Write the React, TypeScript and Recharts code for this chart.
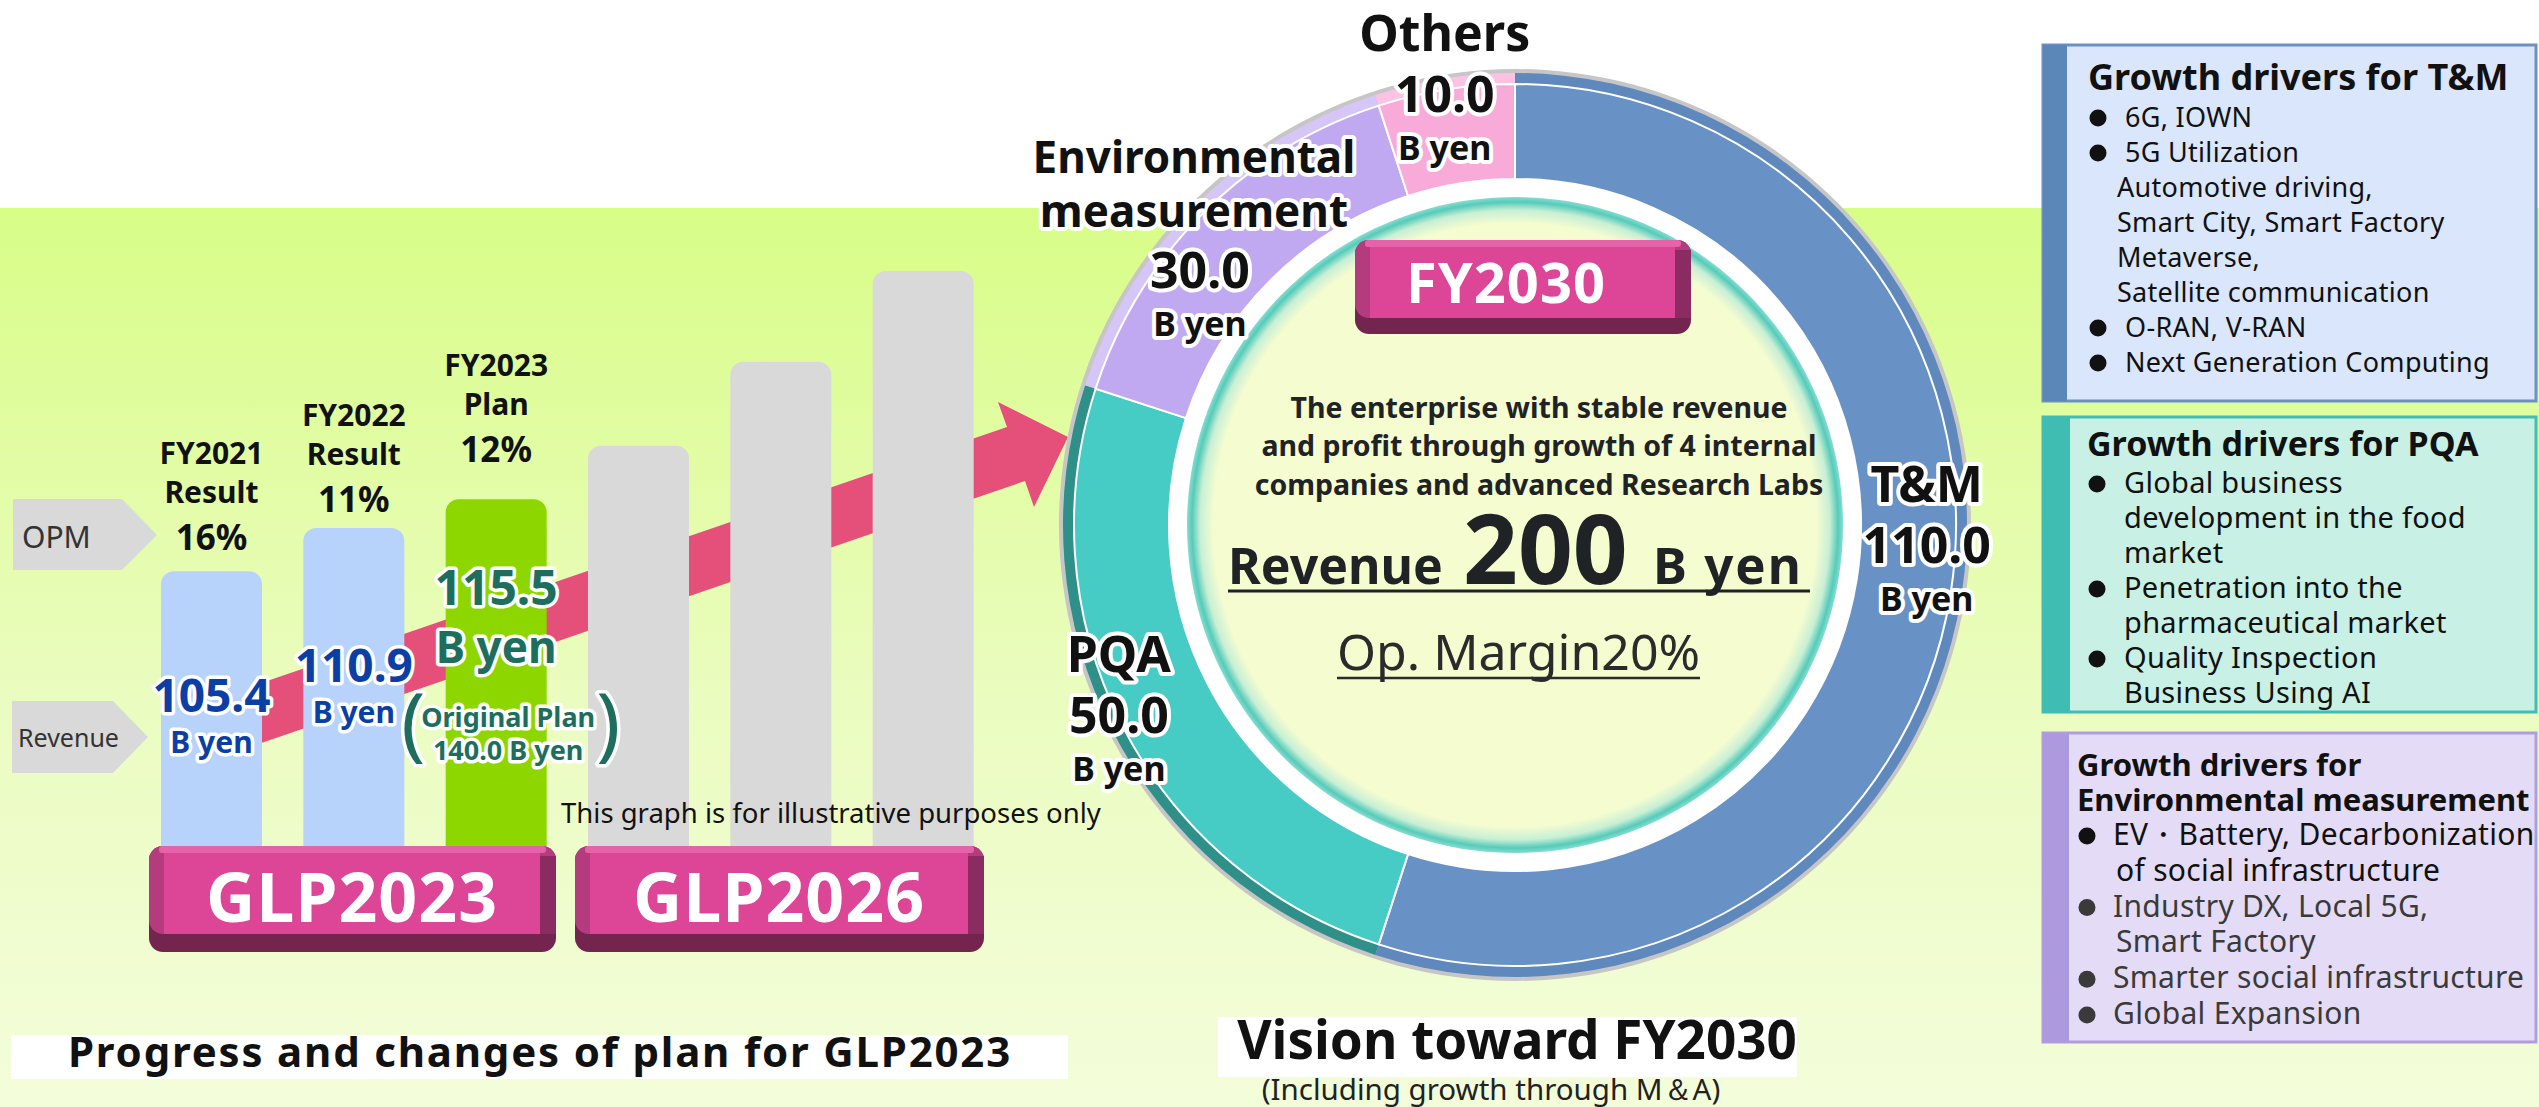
import { BarChart, Bar, XAxis, YAxis, Cell, LabelList, PieChart, Pie } from 'recharts';

const FONT = "'Noto Sans', 'Open Sans', sans-serif";

// GLP2023 / GLP2026 columns (heights are illustrative only, tallest column = 100)
const barKey = ['c1', 'c2', 'c3', 'c4', 'c5', 'c6'];
const barLevel = [47.8, 55.3, 60.3, 69.6, 84.2, 100];
const barColor = ['#b7d2fb', '#b7d2fb', '#8ed600', '#d9d9d9', '#d9d9d9', '#d9d9d9'];
const barPeriod = ['FY2021', 'FY2022', 'FY2023'];
const barStatus = ['Result', 'Result', 'Plan'];
const barOpm = ['16%', '11%', '12%'];
const barRevenue = [105.4, 110.9, 115.5];
const planOriginal = 140.0;
const planNames = ['GLP2023', 'GLP2026'];

// FY2030 revenue split, B yen
const segmentName = ['T&M', 'PQA', 'Environmental measurement', 'Others'];
const segmentRevenue = [110.0, 50.0, 30.0, 10.0];
const segmentColor = ['#6892c5', '#47cbc5', '#c1a9f2', '#f8abd8'];
const segmentRim = ['#5f89bd', '#2f8f89', '#d6c6f8', '#fbc2e3'];
const revenueTarget = 200;
const marginTarget = '20%';

// growth driver boxes: [text, starts with a bullet]
const tmDrivers: [string, boolean][] = [
  ['6G, IOWN', true],
  ['5G Utilization', true],
  ['Automotive driving,', false],
  ['Smart City, Smart Factory', false],
  ['Metaverse,', false],
  ['Satellite communication', false],
  ['O-RAN, V-RAN', true],
  ['Next Generation Computing', true],
];
const pqaDrivers: [string, boolean][] = [
  ['Global business', true],
  ['development in the food', false],
  ['market', false],
  ['Penetration into the', true],
  ['pharmaceutical market', false],
  ['Quality Inspection', true],
  ['Business Using AI', false],
];
const envDrivers: [string, boolean][] = [
  ['EV・Battery, Decarbonization', true],
  ['of social infrastructure', false],
  ['Industry DX, Local 5G,', true],
  ['Smart Factory', false],
  ['Smarter social infrastructure', true],
  ['Global Expansion', true],
];

const barData = barKey.map((key, i) => ({ key, level: barLevel[i] }));
const pieData = segmentName.map((name, i) => ({ name, value: segmentRevenue[i] }));

const outline = { stroke: '#fff', strokeWidth: 7, strokeLinejoin: 'round' as const, paintOrder: 'stroke' };

const barBox = (props: any) => {
  const vb = props.viewBox ?? {};
  const x = Number(props.x ?? vb.x);
  const y = Number(props.y ?? vb.y);
  const w = Number(props.width ?? vb.width);
  return { cx: x + w / 2, top: y };
};

const headerLift = [2, -3, 18];

function BarHeader(props: any) {
  const i = props.index;
  if (i == null || i > 2) return null;
  const { cx, top } = barBox(props);
  const t = top - headerLift[i];
  return (
    <g fontFamily={FONT} fontWeight={700} fill="#111" textAnchor="middle">
      <text x={cx} y={t - 105} fontSize={30}>{barPeriod[i]}</text>
      <text x={cx} y={t - 66} fontSize={30}>{barStatus[i]}</text>
      <text x={cx} y={t - 19} fontSize={35}>{barOpm[i]}</text>
    </g>
  );
}

const valueDrop = [141, 154, 106];

function BarValue(props: any) {
  const i = props.index;
  if (i == null || i > 2) return null;
  const { cx, top } = barBox(props);
  const isPlan = i === 2;
  const color = isPlan ? '#1e6e5e' : '#0b3fa6';
  const yv = top + valueDrop[i];
  return (
    <g fontFamily={FONT} fontWeight={700} fill={color} textAnchor="middle" style={outline}>
      <text x={cx} y={yv} fontSize={isPlan ? 48 : 46}>{barRevenue[i].toFixed(1)}</text>
      <text x={cx} y={yv + (isPlan ? 58 : 41)} fontSize={isPlan ? 44 : 30}>B yen</text>
      {isPlan && (
        <>
          <text x={cx + 12} y={top + 228} fontSize={27}>Original Plan</text>
          <text x={cx + 12} y={top + 261} fontSize={27}>{planOriginal.toFixed(1)} B yen</text>
          <text x={cx - 83} y={top + 252} fontSize={80} fontWeight={400}>(</text>
          <text x={cx + 112} y={top + 252} fontSize={80} fontWeight={400}>)</text>
        </>
      )}
    </g>
  );
}

const labelNudge = [[-13, -29], [-13, 13], [-11, 67], [-3, 12]];

function SegmentLabel(props: any) {
  const { cx, cy, midAngle, index } = props;
  const rad = (-midAngle * Math.PI) / 180;
  const [dx, dy] = labelNudge[index];
  const x = cx + 430 * Math.cos(rad) + dx;
  const y = cy + 430 * Math.sin(rad) + dy;
  const lines = segmentName[index].split(' ');
  const multi = lines.length > 1;
  return (
    <g fontFamily={FONT} fontWeight={700} fill="#111" textAnchor="middle" style={{ ...outline, strokeWidth: 8 }}>
      {lines.map((t, k) => (
        <text key={t} x={multi ? x - 6 : x} y={y - 61 - (lines.length - 1 - k) * 54} fontSize={multi ? 44 : 50}>
          {t}
        </text>
      ))}
      <text x={x} y={y} fontSize={50}>{segmentRevenue[index].toFixed(1)}</text>
      <text x={x} y={y + 48} fontSize={34}>B yen</text>
    </g>
  );
}

function BevelBox({ x, y, w, h, label, tx, baseline, size }: any) {
  const bottom = Math.round(h * 0.17);
  return (
    <g>
      <rect x={x} y={y} width={w} height={h} rx={14} fill="#74254f" />
      <rect x={x} y={y} width={w} height={h - bottom} rx={14} fill="#b43c7e" />
      <rect x={x + w - 16} y={y + 10} width={16} height={h - bottom - 10} fill="#8a2b61" />
      <rect x={x + 15} y={y + 7} width={w - 31} height={h - bottom - 7} fill="#dd4596" />
      <rect x={x + 10} y={y} width={w - 20} height={7} rx={3} fill="#e463a9" />
      <text x={tx} y={baseline} fontSize={size} fontWeight={700} fill="#fff" textAnchor="middle" fontFamily={FONT} letterSpacing={1}>
        {label}
      </text>
    </g>
  );
}

function DriverPanel({ y, h, fill, edge, stripe, stripeW, title, titleX, titleBase, titleSize, lines, size, bulletX, textX, contX, first, step, mutedFrom }: any) {
  const x = 2043;
  const w = 493;
  return (
    <g fontFamily={FONT}>
      <rect x={x} y={y} width={w} height={h} fill={fill} stroke={edge} strokeWidth={3} />
      <rect x={x} y={y} width={stripeW} height={h} fill={stripe} />
      {title.map((t: string, k: number) => (
        <text key={t} x={titleX} y={titleBase + k * 35} fontSize={titleSize} fontWeight={700} fill="#111">{t}</text>
      ))}
      {lines.map(([t, bullet]: [string, boolean], k: number) => {
        const by = first + k * step;
        const color = mutedFrom != null && k >= mutedFrom ? '#3a3a3a' : '#111';
        return (
          <g key={t}>
            {bullet && <circle cx={bulletX} cy={by - 9} r={8.5} fill={color} />}
            <text x={bullet ? textX : contX} y={by} fontSize={size} fill={color} letterSpacing={0.3}>{t}</text>
          </g>
        );
      })}
    </g>
  );
}

export default function App() {
  return (
    <div style={{ position: 'relative', width: 2539, height: 1107, overflow: 'hidden', background: '#fff' }}>
      <style>{'body{margin:0}'}</style>

      {/* backdrop, arrow */}
      <svg width={2539} height={1107} style={{ position: 'absolute', left: 0, top: 0 }}>
        <defs>
          <linearGradient id="band" x1="0" y1="0" x2="0" y2="1">
            <stop offset="0" stopColor="#d8fd87" />
            <stop offset="0.55" stopColor="#ebfcc0" />
            <stop offset="1" stopColor="#f3fdda" />
          </linearGradient>
          <radialGradient id="discFill" cx="50%" cy="50%" r="50%">
            <stop offset="0" stopColor="#f5fcd0" />
            <stop offset="0.92" stopColor="#f5fcd0" />
            <stop offset="0.96" stopColor="#c8efd5" />
            <stop offset="0.985" stopColor="#56cbba" />
            <stop offset="1" stopColor="#86ddd0" />
          </radialGradient>
        </defs>
        <rect x={0} y={208} width={2539} height={899} fill="url(#band)" />
        <rect x={11} y={1035} width={1057} height={44} fill="#fff" />
        <rect x={1218} y={1017} width={579} height={60} fill="#fff" />
        <polygon points="200,704 1007,427 998,402 1068,437 1034,507 1025,481 200,764" fill="#e5507b" />
      </svg>

      <div style={{ position: 'absolute', left: 100, top: 171 }}>
        <BarChart width={934} height={675} data={barData} margin={{ top: 100, right: 40, bottom: 0, left: 40 }}>
          <XAxis dataKey="key" hide />
          <YAxis type="number" domain={[0, 100]} hide />
          <Bar dataKey="level" barSize={101} radius={[13, 13, 0, 0]} isAnimationActive={false}>
            {barData.map((d, i) => (
              <Cell key={d.key} fill={barColor[i]} />
            ))}
            <LabelList dataKey="level" content={BarHeader} />
            <LabelList dataKey="level" content={BarValue} />
          </Bar>
        </BarChart>
      </div>

      {/* left side annotations */}
      <svg width={2539} height={1107} style={{ position: 'absolute', left: 0, top: 0 }} fontFamily={FONT}>
        <polygon points="13,499 122,499 157,535 122,570 13,570" fill="#d9d9d9" />
        <text x={22} y={548} fontSize={30} fill="#333">OPM</text>
        <polygon points="12,701 113,701 148,737 113,773 12,773" fill="#d9d9d9" />
        <text x={18} y={747} fontSize={25} fill="#333">Revenue</text>
        <text x={561} y={823} fontSize={27.5} fill="#111">This graph is for illustrative purposes only</text>
        <BevelBox x={149} y={846} w={407} h={106} label={planNames[0]} tx={352} baseline={922} size={68} />
        <BevelBox x={575} y={846} w={409} h={106} label={planNames[1]} tx={779} baseline={922} size={68} />
        <text x={540} y={1067} fontSize={42} fontWeight={700} fill="#111" textAnchor="middle" letterSpacing={1.8}>
          Progress and changes of plan for GLP2023
        </text>
      </svg>

      <div style={{ position: 'absolute', left: 965, top: -25 }}>
        <PieChart width={1100} height={1100} margin={{ top: 0, right: 0, bottom: 0, left: 0 }}>
          <Pie data={[{ v: 1 }]} dataKey="v" cx={550} cy={550} innerRadius={0} outerRadius={456} stroke="none" isAnimationActive={false}>
            <Cell fill="#c6c6c6" />
          </Pie>
          <Pie data={[{ v: 1 }]} dataKey="v" cx={550} cy={550} innerRadius={0} outerRadius={350} stroke="none" isAnimationActive={false}>
            <Cell fill="#ffffff" />
          </Pie>
          <Pie data={[{ v: 1 }]} dataKey="v" cx={550} cy={550} innerRadius={0} outerRadius={328} stroke="none" isAnimationActive={false}>
            <Cell fill="url(#discFill)" />
          </Pie>
          <Pie data={pieData} dataKey="value" cx={550} cy={550} startAngle={90} endAngle={-270} innerRadius={346} outerRadius={452} stroke="none" isAnimationActive={false}>
            {pieData.map((d, i) => (
              <Cell key={d.name} fill={segmentRim[i]} />
            ))}
          </Pie>
          <Pie
            data={pieData}
            dataKey="value"
            cx={550}
            cy={550}
            startAngle={90}
            endAngle={-270}
            innerRadius={346}
            outerRadius={441}
            stroke="#ffffff"
            strokeWidth={2}
            label={SegmentLabel}
            labelLine={false}
            isAnimationActive={false}
          >
            {pieData.map((d, i) => (
              <Cell key={d.name} fill={segmentColor[i]} />
            ))}
          </Pie>
        </PieChart>
      </div>

      {/* centre of the ring, captions and driver boxes */}
      <svg width={2539} height={1107} style={{ position: 'absolute', left: 0, top: 0 }} fontFamily={FONT}>
        <BevelBox x={1355} y={240} w={336} h={94} label="FY2030" tx={1506} baseline={303} size={56} />
        <g fontSize={28.5} fontWeight={700} fill="#1f2326" textAnchor="middle">
          <text x={1539} y={418}>The enterprise with stable revenue</text>
          <text x={1539} y={456}>and profit through growth of 4 internal</text>
          <text x={1539} y={495}>companies and advanced Research Labs</text>
        </g>
        <g fontWeight={700} fill="#1f2326">
          <text x={1228} y={584} fontSize={50}>Revenue</text>
          <text x={1463} y={584} fontSize={96}>{revenueTarget}</text>
          <text x={1653} y={584} fontSize={51} letterSpacing={2}>B yen</text>
        </g>
        <line x1={1228} x2={1810} y1={591} y2={591} stroke="#1f2326" strokeWidth={3} />
        <text x={1337} y={670} fontSize={50} fill="#2b2b2b">Op. Margin{marginTarget}</text>
        <line x1={1337} x2={1700} y1={678} y2={678} stroke="#2b2b2b" strokeWidth={2.5} />
        <text x={1517} y={1059} fontSize={53} fontWeight={700} fill="#111" textAnchor="middle">Vision toward FY2030</text>
        <text x={1491} y={1100} fontSize={29.5} fill="#222" textAnchor="middle">(Including growth through M＆A)</text>

        <DriverPanel
          y={45} h={356} fill="#dae6fb" edge="#6c90c2" stripe="#5b86b8" stripeW={24}
          title={['Growth drivers for T&M']} titleX={2088} titleBase={90} titleSize={36}
          lines={tmDrivers} size={27} bulletX={2098} textX={2125} contX={2117} first={127} step={35}
        />
        <DriverPanel
          y={417} h={295} fill="#c8f0e4" edge="#43bdb3" stripe="#40bdb3" stripeW={27}
          title={['Growth drivers for PQA']} titleX={2087} titleBase={456} titleSize={34}
          lines={pqaDrivers} size={29} bulletX={2097} textX={2124} contX={2124} first={493} step={35}
        />
        <DriverPanel
          y={733} h={309} fill="#e4dcf6" edge="#b09de0" stripe="#ad9ade" stripeW={26}
          title={['Growth drivers for', 'Environmental measurement']} titleX={2077} titleBase={776} titleSize={31}
          lines={envDrivers} size={30} bulletX={2087} textX={2113} contX={2116} first={845} step={35.8} mutedFrom={2}
        />
      </svg>
    </div>
  );
}
